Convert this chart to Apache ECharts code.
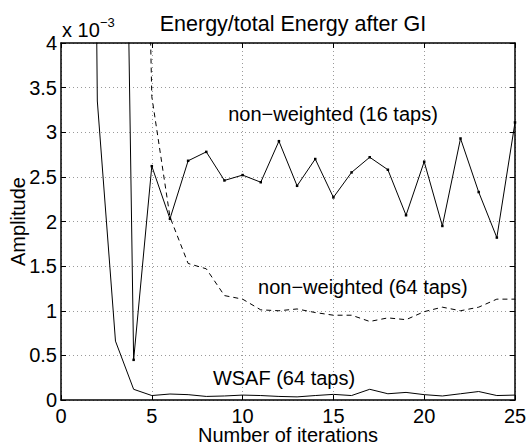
<!DOCTYPE html>
<html>
<head>
<meta charset="utf-8">
<script src="https://cdn.jsdelivr.net/npm/echarts@6/dist/echarts.min.js"></script>
<style>
html,body{margin:0;padding:0;background:#fff;}
#chart{width:528px;height:443px;}
</style>
</head>
<body>
<div id="chart"></div>
<script>
// Values are in units of 1e-3 (axis label "x 10^-3")
const wsafX = [1,2,3,4,5,6,7,8,9,10,11,12,13,14,15,16,17,18,19,20,21,22,23,24,25];
const wsafY = [25,3.35,0.66,0.12,0.05,0.067,0.06,0.04,0.045,0.055,0.05,0.04,0.035,0.05,0.063,0.05,0.12,0.07,0.085,0.06,0.045,0.07,0.095,0.05,0.055];

const nw16X = [3,4,5,6,7,8,9,10,11,12,13,14,15,16,17,18,19,20,21,22,23,24,25];
const nw16Y = [14,0.45,2.62,2.03,2.68,2.78,2.46,2.52,2.44,2.90,2.40,2.70,2.27,2.55,2.72,2.58,2.07,2.67,1.95,2.93,2.33,1.82,3.11];

const nw64X = [4,5,6,7,8,9,10,11,12,13,14,15,16,17,18,19,20,21,22,23,24,25];
const nw64Y = [13,3.4,2.05,1.53,1.47,1.17,1.13,1.01,1.0,1.02,0.98,0.95,0.95,0.88,0.92,0.9,0.99,1.04,1.0,1.04,1.13,1.13];

const xTicks = [0,5,10,15,20,25];
const yTicks = [0,0.5,1,1.5,2,2.5,3,3.5,4];

const titleText = 'Energy/total Energy after GI';
const xName = 'Number of iterations';
const yName = 'Amplitude';
const annoTexts = ['non\u2212weighted (16 taps)','non\u2212weighted (64 taps)','WSAF (64 taps)'];
const annoPos = [[14.98,3.21],[16.62,1.267],[12.28,0.25]];

const F = '"Liberation Sans", Arial, Helvetica, sans-serif';
const pairs = (xs, ys) => xs.map((x, i) => [x, ys[i]]);

const chart = echarts.init(document.getElementById('chart'), null, {renderer:'svg'});

const frameLine = {onZero:false, lineStyle:{color:'#000', width:1.5}};
const tick = {inside:true, length:5, lineStyle:{color:'#000', width:1}};
const grid = {lineStyle:{color:'#9a9a9a', width:1, type:[1,3]}};
const labelStyle = {fontFamily:F, fontSize:20, color:'#000'};

chart.setOption({
  animation:false,
  backgroundColor:'#fff',
  title:{text:titleText, left:288, top:8, textAlign:'center',
    textStyle:{fontFamily:F, fontSize:21.5, fontWeight:'normal', color:'#000'}},
  grid:{left:61, top:43, width:454, height:357, containLabel:false, outerBoundsMode:'none'},
  xAxis:[
    {type:'value', min:xTicks[0], max:xTicks[xTicks.length-1], interval:5, position:'bottom',
     name:xName, nameLocation:'middle', nameGap:25, nameMoveOverlap:false,
     nameTextStyle:{fontFamily:F, fontSize:20, color:'#000'},
     axisLine:frameLine, axisTick:tick,
     axisLabel:Object.assign({margin:6, showMinLabel:true, showMaxLabel:true}, labelStyle),
     splitLine:Object.assign({show:true}, grid)},
    {type:'value', min:xTicks[0], max:xTicks[xTicks.length-1], interval:5, position:'top',
     axisLine:frameLine, axisTick:tick, axisLabel:{show:false}, splitLine:{show:false}}
  ],
  yAxis:[
    {type:'value', min:yTicks[0], max:yTicks[yTicks.length-1], interval:0.5, position:'left',
     name:yName, nameLocation:'middle', nameGap:33, nameMoveOverlap:false,
     nameTextStyle:{fontFamily:F, fontSize:20, color:'#000'},
     axisLine:frameLine, axisTick:tick,
     axisLabel:Object.assign({margin:4, showMinLabel:true, showMaxLabel:true}, labelStyle),
     splitLine:Object.assign({show:true}, grid)},
    {type:'value', min:yTicks[0], max:yTicks[yTicks.length-1], interval:0.5, position:'right',
     axisLine:frameLine, axisTick:tick, axisLabel:{show:false}, splitLine:{show:false}}
  ],
  series:[
    {type:'line', name:'WSAF (64 taps)', data:pairs(wsafX, wsafY), showSymbol:false,
     lineStyle:{color:'#000', width:1}, clip:true, z:3},
    {type:'line', name:'non-weighted (16 taps)', data:pairs(nw16X, nw16Y),
     symbol:'rect', symbolSize:2.5, showAllSymbol:true, itemStyle:{color:'#000'},
     lineStyle:{color:'#000', width:1}, clip:true, z:4},
    {type:'line', name:'non-weighted (64 taps)', data:pairs(nw64X, nw64Y), showSymbol:false,
     lineStyle:{color:'#000', width:1, type:[5,4]}, clip:true, z:3}
  ]
});

const g = [];
annoTexts.forEach((t, i) => {
  const p = chart.convertToPixel({gridIndex:0}, annoPos[i]);
  g.push({type:'text', x:p[0], y:p[1], z:10,
    style:{text:t, font:'20px ' + F, fill:'#000', align:'center', verticalAlign:'middle'}});
});
g.push({type:'text', x:62, y:30, z:10,
  style:{text:'x 10', font:'20px ' + F, fill:'#000', align:'left', verticalAlign:'middle'}});
g.push({type:'text', x:100, y:22, z:10,
  style:{text:'\u22123', font:'13px ' + F, fill:'#000', align:'left', verticalAlign:'middle'}});
chart.setOption({graphic:g});
</script>
</body>
</html>
